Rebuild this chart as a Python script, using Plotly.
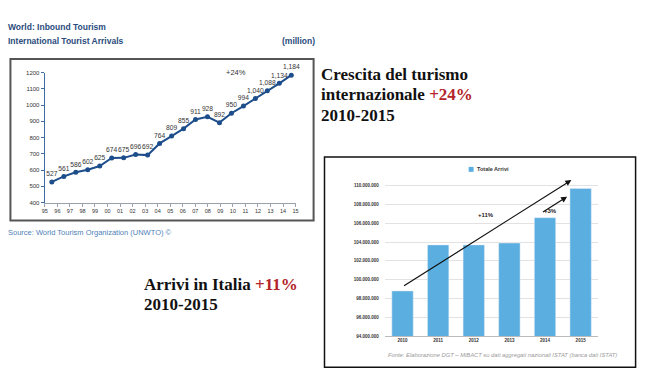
import plotly.graph_objects as go
import numpy as np

W, H = 648, 384

# ---- Left chart data: World inbound tourism (million)
world_years = list(range(1995, 2016))
world_tick_labels = [f"{y % 100:02d}" for y in world_years]
world_arrivals = [527, 561, 586, 602, 625, 674, 675, 696, 692, 764, 809,
                  855, 911, 928, 892, 950, 994, 1040, 1088, 1134, 1184]

# ---- Right chart data: Italy total arrivals
italy_years = ["2010", "2011", "2012", "2013", "2014", "2015"]
italy_arrivals = [98.8e6, 103.7e6, 103.7e6, 103.9e6, 106.6e6, 109.7e6]
italy_series_name = "Totale Arrivi"


def px_x(px):
    return px / W


def px_y(py):
    return 1 - py / H


fig = go.Figure()

NAVY = "#1d4e8b"
BAR = "#5aaee0"
fig.add_trace(go.Scatter(
    x=world_years, y=world_arrivals,
    mode="lines+markers+text",
    line=dict(color=NAVY, width=2),
    marker=dict(color=NAVY, size=5),
    text=[f"{v:,}" for v in world_arrivals],
    textposition="top center",
    textfont=dict(family="Liberation Sans, Arial", size=6.7, color="#333333"),
    cliponaxis=False,
    showlegend=False,
    hoverinfo="skip",
    xaxis="x", yaxis="y",
))

fig.add_trace(go.Bar(
    x=italy_years, y=italy_arrivals,
    marker=dict(color=BAR),
    width=0.6,
    name=italy_series_name,
    showlegend=False,
    hoverinfo="skip",
    xaxis="x2", yaxis="y2",
))

x0 = 1995 - (49.3 - 42) / 12.085
x1 = 2015 + (295.3 - 291) / 12.085

fig.update_layout(
    width=W, height=H, autosize=False,
    margin=dict(l=0, r=0, t=0, b=0),
    paper_bgcolor="white", plot_bgcolor="white",
    separators=",.",
    font=dict(family="Liberation Sans, Arial", color="#333333"),
    xaxis=dict(
        domain=[px_x(42), px_x(295.3)],
        range=[x0, x1],
        tickmode="array",
        tickvals=list(np.linspace(x0 + 0.02, x1, 21)),
        ticktext=world_tick_labels,
        showgrid=False, zeroline=False,
        showline=True, linecolor="#9aa3ad", linewidth=1,
        ticks="outside", ticklen=3, tickcolor="#9aa3ad",
        tickfont=dict(size=5.5, color="#333333"),
        anchor="y",
    ),
    yaxis=dict(
        domain=[px_y(202.7), px_y(70.7)],
        range=[400, 1200],
        dtick=100, tickformat="d",
        showgrid=False, zeroline=False,
        showline=True, linecolor="#3f6ea6", linewidth=1,
        ticks="outside", ticklen=3, tickcolor="#3f6ea6",
        tickfont=dict(size=6, color="#333333"),
        anchor="x",
    ),
    xaxis2=dict(
        domain=[px_x(385.3), px_x(601)],
        type="category",
        showgrid=False, zeroline=False,
        showline=True, linecolor="#bbbbbb", linewidth=1,
        tickfont=dict(size=4.5, color="#333333", weight="bold"),
        anchor="y2",
    ),
    yaxis2=dict(
        domain=[px_y(338.3), px_y(176.1)],
        range=[94e6, 111e6],
        tick0=94e6, dtick=2e6, tickformat=",d",
        showgrid=True, gridcolor="#e2e2e2", gridwidth=1,
        zeroline=False, showline=False,
        ticks="", ticklabelstandoff=5,
        tickfont=dict(size=4.5, color="#333333", weight="bold"),
        anchor="x2",
    ),
)

shapes = [
    # left chart frame
    dict(type="rect", xref="paper", yref="paper",
         x0=px_x(7.5), x1=px_x(313.5), y0=px_y(221), y1=px_y(57),
         line=dict(color="#555555", width=2), fillcolor="rgba(0,0,0,0)"),
    # right chart frame
    dict(type="rect", xref="paper", yref="paper",
         x0=px_x(324.5), x1=px_x(638.5), y0=px_y(370), y1=px_y(156.5),
         line=dict(color="#111111", width=1.5), fillcolor="rgba(0,0,0,0)"),
    # legend swatch
    dict(type="rect", xref="paper", yref="paper",
         x0=px_x(470), x1=px_x(475), y0=px_y(171.5), y1=px_y(166.5),
         line=dict(width=0), fillcolor=BAR),
]
fig.update_layout(shapes=shapes)

TITLE_BLUE = "#2a4b7c"
ann = []
ann.append(dict(text="<b>World: Inbound Tourism</b>", x=px_x(3), y=px_y(24),
                xref="paper", yref="paper", xanchor="left", yanchor="middle",
                showarrow=False, font=dict(size=8.5, color=TITLE_BLUE)))
ann.append(dict(text="<b>International Tourist Arrivals</b>", x=px_x(3), y=px_y(39),
                xref="paper", yref="paper", xanchor="left", yanchor="middle",
                showarrow=False, font=dict(size=8.5, color=TITLE_BLUE)))
ann.append(dict(text="<b>(million)</b>", x=px_x(317), y=px_y(39),
                xref="paper", yref="paper", xanchor="right", yanchor="middle",
                showarrow=False, font=dict(size=8.5, color=TITLE_BLUE)))
ann.append(dict(text="+24%", x=px_x(235), y=px_y(71),
                xref="paper", yref="paper", xanchor="center", yanchor="middle",
                showarrow=False, font=dict(size=7.5, color="#333333")))
ann.append(dict(text="Source: World Tourism Organization (UNWTO) ©", x=px_x(3), y=px_y(233),
                xref="paper", yref="paper", xanchor="left", yanchor="middle",
                showarrow=False, font=dict(size=7.5, color="#4f7fb8")))
ann.append(dict(text=f"<b>{italy_series_name}</b>", x=px_x(476), y=px_y(169),
                xref="paper", yref="paper", xanchor="left", yanchor="middle",
                showarrow=False, font=dict(size=5.5, color="#333333")))

SERIF = "Liberation Serif, Times New Roman, serif"
RED = "#b3242b"
for txt, xx, yy in [
    ("<b>Crescita del turismo</b>", 319, 73),
    (f"<b>internazionale <span style='color:{RED}'>+24%</span></b>", 319, 93),
    ("<b>2010-2015</b>", 319, 114),
    (f"<b>Arrivi in Italia <span style='color:{RED}'>+11%</span></b>", 140, 286),
    ("<b>2010-2015</b>", 140, 306),
]:
    ann.append(dict(text=txt, x=px_x(xx), y=px_y(yy), xref="paper", yref="paper",
                    xanchor="left", yanchor="middle", showarrow=False,
                    font=dict(family=SERIF, size=17, color="#111111")))

# arrows in right chart
ann.append(dict(x=4.74, y=110.6e6, ax=0, ay=99.24e6, xref="x2", yref="y2",
                axref="x2", ayref="y2", showarrow=True, arrowhead=2,
                arrowsize=1, arrowwidth=1.2, arrowcolor="#111111", text=""))
ann.append(dict(x=4.62, y=108.84e6, ax=3.9, ay=107.1e6, xref="x2", yref="y2",
                axref="x2", ayref="y2", showarrow=True, arrowhead=2,
                arrowsize=1, arrowwidth=1.2, arrowcolor="#111111", text=""))
ann.append(dict(text="<b>+11%</b>", x=px_x(497.7), y=px_y(215), xref="paper", yref="paper",
                showarrow=False, font=dict(size=6, color="#222222")))
ann.append(dict(text="<b>+3%</b>", x=px_x(561.3), y=px_y(211), xref="paper", yref="paper",
                showarrow=False, font=dict(size=6, color="#222222")))
ann.append(dict(text="Fonte: Elaborazione DGT – MiBACT su dati aggregati nazionali ISTAT (banca dati ISTAT)",
                x=px_x(504), y=px_y(357.7), xref="paper", yref="paper",
                xanchor="center", yanchor="middle", showarrow=False,
                font=dict(size=5.8, color="#9a9a9a", style="italic")))

fig.update_layout(annotations=ann)

fig.write_html(
    "out.html",
    config={"displayModeBar": False},
    post_script="document.body.style.margin='0';document.body.style.padding='0';document.body.style.overflow='hidden';",
)
